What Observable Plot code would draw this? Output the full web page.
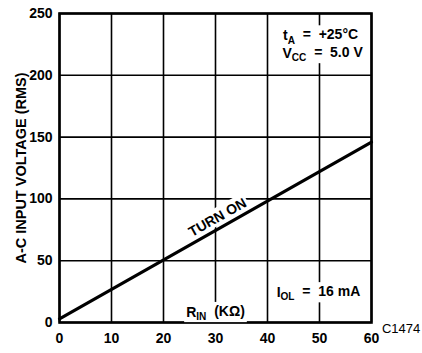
<!DOCTYPE html>
<html><head><meta charset="utf-8">
<script src="https://cdn.jsdelivr.net/npm/d3@7"></script>
<script src="https://cdn.jsdelivr.net/npm/@observablehq/plot@0.6"></script>
<style>body{margin:0;background:#fff}</style>
</head><body><div id="chart"></div>
<script>
// Data
const rIn = [0, 60];            // R_IN (kΩ)
const voltage = [3, 146];       // A-C input voltage (RMS) at turn on
const xTicks = [0, 10, 20, 30, 40, 50, 60];
const yTicks = [0, 50, 100, 150, 200, 250];
const noteText = ["t_{A}  =  +25°C", "V_{CC}  =  5.0 V", "I_{OL}  =  16 mA", "R_{IN}  (KΩ)"];
const noteX = [50.2, 50.6, 49.8, 30];
const noteY = [231.8, 217.5, 24, 8];
const curveLabel = "TURN ON";
const curveLabelX = 30.4, curveLabelY = 85;
const figId = "C1474";
const figIdX = 62.0, figIdY = -5.5;

const lineData = rIn.map((x, i) => ({x, y: voltage[i]}));
const notes = noteText.map((t, i) => ({t, x: noteX[i], y: noteY[i]}));

const font = "'Liberation Sans', Arial, Helvetica, sans-serif";

const chart = Plot.plot({
  width: 422, height: 353,
  marginLeft: 59, marginRight: 51, marginTop: 13, marginBottom: 31,
  style: {fontFamily: font, fontSize: "14px", color: "#000", background: "#fff"},
  x: {domain: [0, 60]},
  y: {domain: [0, 250]},
  marks: [
    Plot.ruleX(xTicks, {stroke: "#000", strokeWidth: 1.6}),
    Plot.ruleY(yTicks, {stroke: "#000", strokeWidth: 1.6}),
    Plot.frame({stroke: "#000", strokeWidth: 2.6}),
    Plot.axisX({ticks: xTicks, tickSize: 0, tickPadding: 11, fontWeight: "bold", fontSize: 14, label: null}),
    Plot.axisY({ticks: yTicks, tickSize: 0, tickPadding: 7, fontWeight: "bold", fontSize: 14,
      label: "A-C INPUT VOLTAGE (RMS)", labelAnchor: "center", labelArrow: "none", labelOffset: 44}),
    Plot.line(lineData, {x: "x", y: "y", stroke: "#000", strokeWidth: 3.2}),
    Plot.text(notes, {x: "x", y: "y", text: "t", fontSize: 14, fontWeight: "bold", fill: "#000"}),
    Plot.text([curveLabel], {x: () => curveLabelX, y: () => curveLabelY, text: d => d, rotate: -29.3,
      fontSize: 14, fontWeight: "bold", fill: "#000"}),
    Plot.text([figId], {x: () => figIdX, y: () => figIdY, text: d => d, textAnchor: "start",
      fontSize: 13, fill: "#000", clip: false})
  ]
});

document.getElementById("chart").appendChild(chart);
const svg = d3.select(chart);

// Subscripts: turn "_{...}" into lowered, smaller tspans
svg.selectAll("text").each(function () {
  const s = this.textContent;
  if (!s.includes("_{")) return;
  const el = d3.select(this).style("white-space", "pre");
  el.text(null);
  const parts = s.split(/(_\{[^}]*\})/);
  let lowered = false;
  for (const p of parts) {
    if (!p) continue;
    if (p.startsWith("_{")) {
      el.append("tspan").attr("font-size", "0.72em").attr("dy", "0.3em").text(p.slice(2, -1));
      lowered = true;
    } else {
      const ts = el.append("tspan").text(p);
      if (lowered) { ts.attr("dy", "-0.3em"); lowered = false; }
    }
  }
});
// y axis label style
svg.selectAll("[aria-label='y-axis label'] text").attr("font-weight", "bold").attr("font-size", 14.5);

// White knock-out boxes behind in-plot annotations (as on the original sheet), drawn before all texts
svg.selectAll("g[aria-label='text']").each(function () {
  const g = this;
  const texts = Array.from(g.querySelectorAll("text")).filter(t => t.textContent !== figId);
  const first = g.firstChild;
  for (const t of texts) {
    const b = t.getBBox();
    const pad = 2;
    const r = document.createElementNS("http://www.w3.org/2000/svg", "rect");
    r.setAttribute("x", b.x - pad); r.setAttribute("y", b.y - 1);
    r.setAttribute("width", b.width + 2 * pad); r.setAttribute("height", b.height + 1);
    r.setAttribute("fill", "#fff");
    if (t.getAttribute("transform")) r.setAttribute("transform", t.getAttribute("transform"));
    g.insertBefore(r, first);
  }
});
</script>
</body></html>
